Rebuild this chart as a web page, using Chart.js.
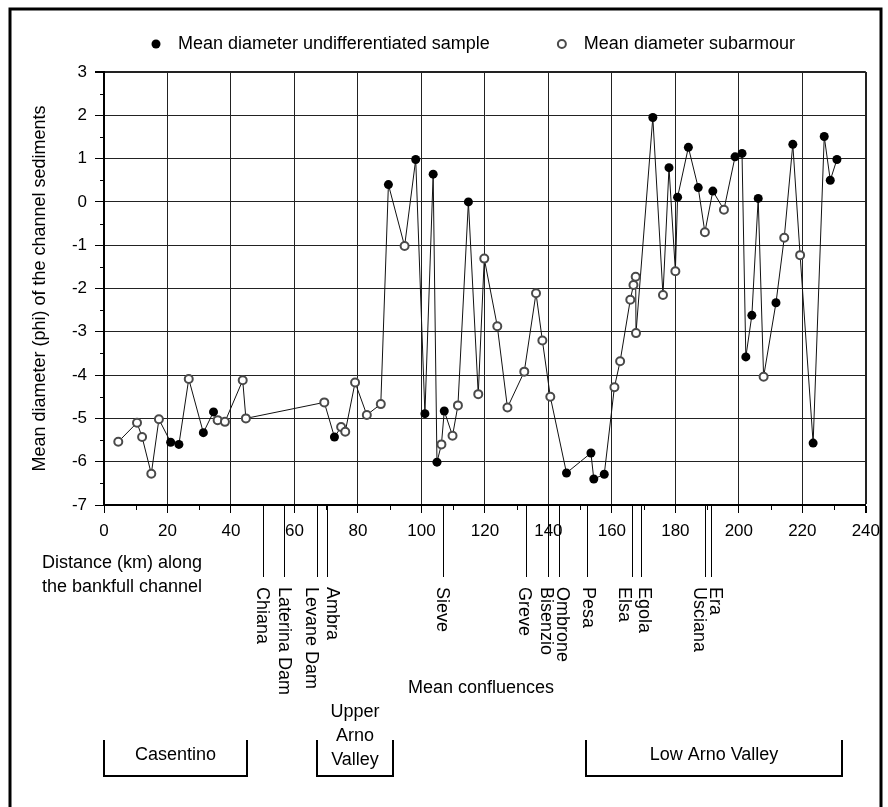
<!DOCTYPE html>
<html>
<head>
<meta charset="utf-8">
<script src="https://cdn.jsdelivr.net/npm/chart.js@4.4.0/dist/chart.umd.min.js"></script>
<style>
  body { margin: 0; background: #fff; }
  #wrap { width: 888px; height: 807px; position: relative; }
</style>
</head>
<body>
<div id="wrap"><canvas id="chart"></canvas></div>
<script>
// undifferentiated samples (filled dots)
const undiffKm  = [21.0, 23.6, 31.3, 34.5, 72.6, 89.6, 98.2, 101.1, 103.7, 104.9, 107.2, 114.8, 145.7, 153.4, 154.3, 157.6, 172.9, 178.0, 180.7, 184.1, 187.2, 191.8, 198.8, 201.0, 202.2, 204.1, 206.1, 211.7, 217.0, 223.4, 226.9, 228.8, 230.9];
const undiffPhi = [-5.55, -5.60, -5.33, -4.85, -5.43, 0.40, 0.98, -4.89, 0.64, -6.01, -4.83, 0.0, -6.26, -5.80, -6.40, -6.29, 1.95, 0.79, 0.11, 1.26, 0.33, 0.25, 1.04, 1.12, -3.58, -2.62, 0.08, -2.33, 1.33, -5.57, 1.51, 0.50, 0.98];

// subarmour samples (open dots)
const subKm  = [4.5, 10.4, 12.0, 14.9, 17.3, 26.7, 35.8, 38.1, 43.7, 44.7, 69.4, 74.7, 76.0, 79.1, 82.8, 87.2, 94.7, 106.3, 109.8, 111.5, 117.9, 119.8, 123.9, 127.1, 132.4, 136.1, 138.1, 140.6, 160.8, 162.6, 165.8, 166.8, 167.5, 167.6, 176.1, 180.0, 189.3, 195.3, 207.8, 214.3, 219.3];
const subPhi = [-5.54, -5.10, -5.43, -6.28, -5.02, -4.09, -5.04, -5.08, -4.12, -5.00, -4.63, -5.20, -5.31, -4.17, -4.92, -4.67, -1.02, -5.60, -5.40, -4.70, -4.44, -1.31, -2.87, -4.75, -3.92, -2.11, -3.20, -4.50, -4.28, -3.68, -2.26, -1.92, -1.73, -3.03, -2.15, -1.60, -0.70, -0.18, -4.04, -0.83, -1.23];

// tributary confluences along the channel
const confluenceNames = ['Chiana', 'Laterina Dam', 'Levane Dam', 'Ambra', 'Sieve', 'Greve', 'Bisenzio', 'Ombrone', 'Pesa', 'Elsa', 'Egola', 'Usciana', 'Era'];
const confluenceKm = [50.1, 56.7, 67.2, 70.3, 106.9, 132.9, 139.9, 143.4, 152.3, 166.2, 169.1, 189.2, 191.1];
// sideways nudge (px) of each rotated label so neighbours don't collide
const labelShift = [-2, -1, -7, 4, -2, -3, -3, 2, 0, -9, 2, -7, 3];

// valley reaches
const regionLabels = [['Casentino'], ['Upper', 'Arno', 'Valley'], ['Low Arno Valley']];
const regionStartKm = [0, 67, 152];
const regionEndKm = [45, 91, 232.5];

const FONT = '"Liberation Sans", Arial, sans-serif';

const undiffPts = undiffKm.map((x, i) => ({x, y: undiffPhi[i]}));
const subPts = subKm.map((x, i) => ({x, y: subPhi[i]}));
const allPts = undiffPts.concat(subPts).sort((a, b) => a.x - b.x);

const annotate = {
    id: 'annotate',
    afterDraw(chart){
        const {ctx, chartArea: a, scales: {x, y}} = chart;
        ctx.save();

        // minor ticks
        ctx.strokeStyle = '#000';
        ctx.lineWidth = 1;
        ctx.beginPath();
        for (let v = -6.5; v < 3; v += 1) {
            const py = Math.round(y.getPixelForValue(v)) + 0.5;
            ctx.moveTo(a.left - 4, py);
            ctx.lineTo(a.left, py);
        }
        for (let v = 10; v < 240; v += 20) {
            const px = Math.round(x.getPixelForValue(v)) + 0.5;
            ctx.moveTo(px, a.bottom);
            ctx.lineTo(px, a.bottom + 5);
        }
        ctx.stroke();

        // legend
        ctx.font = `18px ${FONT}`;
        ctx.textBaseline = 'middle';
        ctx.textAlign = 'left';
        ctx.fillStyle = '#000';
        let lx = 156;
        const ly = 44;
        chart.data.datasets.filter(d => d.legend).forEach(d => {
            ctx.beginPath();
            ctx.arc(lx, ly, d.pointRadius, 0, Math.PI * 2);
            ctx.fillStyle = d.pointBackgroundColor;
            ctx.fill();
            if (d.pointBorderWidth) {
                ctx.lineWidth = d.pointBorderWidth;
                ctx.strokeStyle = d.pointBorderColor;
                ctx.stroke();
            }
            ctx.fillStyle = '#000';
            ctx.fillText(d.label, lx + 22, ly);
            lx += 22 + ctx.measureText(d.label).width + 72;
        });

        // x axis title (left block)
        ctx.fillText('Distance (km) along', 42, 563);
        ctx.fillText('the bankfull channel', 42, 587);

        // confluence markers
        ctx.strokeStyle = '#000';
        ctx.lineWidth = 1;
        confluenceKm.forEach((km, i) => {
            const px = Math.round(x.getPixelForValue(km)) + 0.5;
            ctx.beginPath();
            ctx.moveTo(px, a.bottom);
            ctx.lineTo(px, a.bottom + 72);
            ctx.stroke();
            ctx.save();
            ctx.translate(px + labelShift[i], a.bottom + 82);
            ctx.rotate(Math.PI / 2);
            ctx.textAlign = 'left';
            ctx.textBaseline = 'middle';
            ctx.fillText(confluenceNames[i], 0, 0);
            ctx.restore();
        });
        ctx.textAlign = 'center';
        ctx.fillText('Mean confluences', 481, 688);

        // valley reach brackets
        ctx.lineWidth = 2;
        regionLabels.forEach((lines, i) => {
            const x0 = Math.round(x.getPixelForValue(regionStartKm[i]));
            const x1 = Math.round(x.getPixelForValue(regionEndKm[i]));
            ctx.beginPath();
            ctx.moveTo(x0, 740);
            ctx.lineTo(x0, 776);
            ctx.lineTo(x1, 776);
            ctx.lineTo(x1, 740);
            ctx.stroke();
            const cx = (x0 + x1) / 2;
            const top = 755 - (lines.length - 1) * 24 + (lines.length > 1 ? 5 : 0);
            lines.forEach((t, j) => ctx.fillText(t, cx, top + j * 24));
        });

        // outer frame
        ctx.lineWidth = 3;
        ctx.beginPath();
        ctx.moveTo(10, 807);
        ctx.lineTo(10, 9);
        ctx.lineTo(881, 9);
        ctx.lineTo(881, 807);
        ctx.stroke();

        ctx.restore();
    }
};

new Chart(document.getElementById('chart'), {
    type: 'scatter',
    data: {
        datasets: [
            {
                label: 'Mean diameter undifferentiated sample',
                data: undiffPts,
                legend: true,
                pointRadius: 4.5,
                pointBackgroundColor: '#000',
                pointBorderColor: '#000',
                pointBorderWidth: 0,
                order: 0
            },
            {
                label: 'Mean diameter subarmour',
                data: subPts,
                legend: true,
                pointRadius: 4,
                pointBackgroundColor: '#fff',
                pointBorderColor: '#4a4a4a',
                pointBorderWidth: 2,
                order: 1
            },
            {
                label: 'profile',
                data: allPts,
                showLine: true,
                pointRadius: 0,
                borderColor: '#111',
                borderWidth: 1,
                order: 2
            }
        ]
    },
    options: {
        responsive: true,
        maintainAspectRatio: false,
        animation: false,
        layout: { padding: { left: 0, right: 21, top: 72, bottom: 0 } },
        plugins: { legend: { display: false }, tooltip: { enabled: false } },
        scales: {
            x: {
                type: 'linear',
                min: 0,
                max: 240,
                afterFit: s => { s.height = 302; },
                ticks: { stepSize: 20, padding: 8, color: '#000', font: { family: FONT, size: 17 } },
                grid: {
                    color: '#222',
                    lineWidth: c => (c.tick && c.tick.value === 240 ? 2 : 1),
                    tickLength: 8,
                    tickColor: '#000'
                },
                border: { display: true, color: '#000', width: 2 }
            },
            y: {
                min: -7,
                max: 3,
                afterFit: s => { s.width = 104; },
                ticks: { stepSize: 1, padding: 8, color: '#000', font: { family: FONT, size: 17 } },
                grid: {
                    color: '#222',
                    lineWidth: c => (c.tick && c.tick.value === 3 ? 2 : 1),
                    tickLength: 9,
                    tickColor: '#000'
                },
                border: { display: true, color: '#000', width: 2 },
                title: {
                    display: true,
                    text: 'Mean diameter (phi) of the channel sediments',
                    color: '#000',
                    font: { family: FONT, size: 18 },
                    padding: { top: 29, bottom: 0 }
                }
            }
        }
    },
    plugins: [annotate]
});
</script>
</body>
</html>
